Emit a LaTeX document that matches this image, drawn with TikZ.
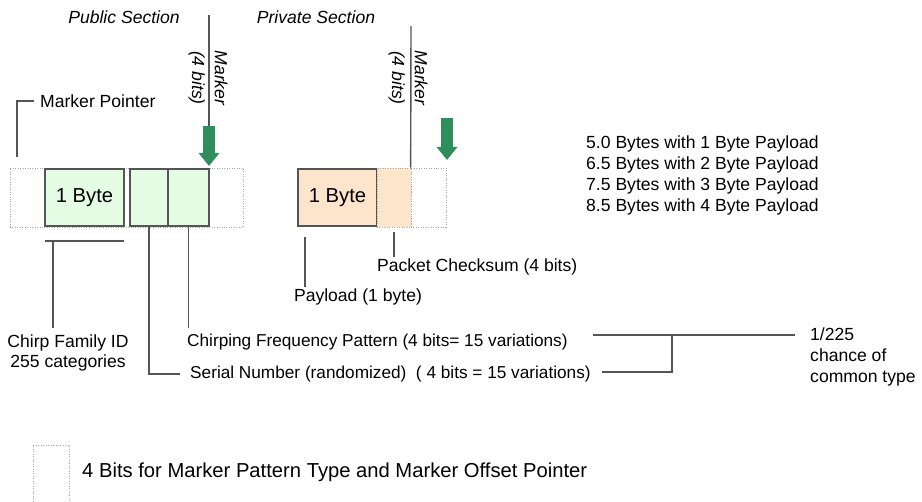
\documentclass[tikz,border=0pt]{standalone}
\usepackage{fontspec}
\setmainfont{Liberation Sans}
\usetikzlibrary{positioning, arrows.meta, calc}

\definecolor{cellgreen}{HTML}{E4FBE4}
\definecolor{cellorange}{HTML}{FDE5CC}
\definecolor{markgreen}{HTML}{2E8F5C}
\definecolor{linegray}{HTML}{555555}
\definecolor{dotgray}{HTML}{A8A8A8}

\begin{document}
\begin{tikzpicture}[x=0.02cm, y=-0.02cm, font=\fontsize{10}{12}\selectfont,
    frame/.style={draw=dotgray, densely dotted, minimum height=1.18cm, inner sep=0pt},
    cell/.style={draw=linegray, line width=0.9pt, minimum height=1.14cm, inner sep=0pt,
      font=\fontsize{11.5}{13}\selectfont},
    lead/.style={draw=linegray, line width=0.8pt},
    lbl/.style={inner sep=1pt},
    narrow/.style={font=\fontsize{9.8}{12}\selectfont},
    markarrow/.style={-{Triangle[width=0.4cm, length=0.26cm]}, line width=0.24cm, draw=markgreen},
    marktext/.style={rotate=-90, align=center, font=\fontsize{10}{13}\selectfont\itshape},
    section/.style={font=\fontsize{10}{12}\selectfont\itshape}]
  \useasboundingbox (0,0) rectangle (922,502);

  % section titles
  \node[section] (pub) at (124,17) {Public Section};
  \node[section] (priv) at (316,17) {Private Section};

  % public section
  \node[frame, minimum width=4.66cm] (pubframe) at (126.5,197.5) {};
  \node[cell, fill=cellgreen, minimum width=1.58cm] (famid) at (84.5,197.5) {1 Byte};
  \node[cell, fill=cellgreen, minimum width=0.76cm] (sncell) at (149,197.5) {};
  \node[cell, fill=cellgreen, minimum width=0.82cm] (cfcell) at (188.5,197.5) {};

  % private section
  \node[cell, fill=cellorange, minimum width=1.58cm] (payload) at (337.5,197.5) {1 Byte};
  \node[frame, fill=cellorange, minimum width=0.68cm] (chkcell) at (394,197.5) {};
  \node[frame, minimum width=0.70cm] (privptr) at (428.5,197.5) {};

  % markers
  \coordinate (pubtop) at (209,15);
  \coordinate (pubarrow) at (209,126);
  \coordinate (pubtip) at (209,166);
  \draw[lead] (pubtop) -- (pubarrow);
  \draw[markarrow] (pubarrow) -- (pubtip);
  \node[marktext] (pubmark) at (208,78) {Marker\\(4 bits)};

  \coordinate (privtop) at (411,26);
  \draw[lead] (privtop) -- (privptr.north west);
  \node[marktext] (privmark) at (408,78) {Marker\\(4 bits)};
  \coordinate (privarrow) at (447,118);
  \coordinate (privtip) at (447,160);
  \draw[markarrow] (privarrow) -- (privtip);

  % marker pointer
  \node[anchor=west] (mptr) at (34,101) {Marker Pointer};
  \coordinate (mpfoot) at (17,157);
  \draw[lead] (mpfoot) |- (mptr.west);

  % packet sizes
  \node[anchor=west, align=left, font=\fontsize{10}{12}\selectfont] (sizes) at (580,175.5)
    {5.0 Bytes with 1 Byte Payload\\6.5 Bytes with 2 Byte Payload\\7.5 Bytes with 3 Byte Payload\\8.5 Bytes with 4 Byte Payload};

  % chirp family id
  \coordinate (cfl) at (45,241);
  \coordinate (cfr) at (124,241);
  \coordinate (cfknee) at (53,241);
  \draw[lead] (cfl) -- (cfr);
  \node[align=center, font=\fontsize{10}{11.5}\selectfont] (cfid) at (68,353) {Chirp Family ID\\255 categories};
  \draw[lead] (cfknee) -- (cfknee |- cfid.north);

  % serial number and chirping pattern
  \node[narrow, anchor=west] (chirp) at (181,342) {Chirping Frequency Pattern (4 bits= 15 variations)};
  \node[narrow, anchor=west] (serial) at (184,374) {Serial Number (randomized)\ \ ( 4 bits = 15 variations)};
  \draw[lead] (sncell.south) |- ([xshift=-0.08cm]serial.west);
  \draw[lead] (cfcell.south) -- (cfcell.south |- chirp.north);

  % odds of a common type
  \node[anchor=west, align=left, font=\fontsize{10}{11.7}\selectfont] (odds) at (804,357) {1/225\\chance of\\common type};
  \coordinate (chirpend) at (593,335);
  \coordinate (serialend) at (602,372);
  \coordinate (oddsknee) at (672,335);
  \draw[lead] (chirpend) -- ([xshift=-0.18cm]odds.west |- chirpend);
  \draw[lead] (serialend) -| (oddsknee);

  % payload and checksum
  \node[lbl] (pl) at (358,297) {Payload (1 byte)};
  \coordinate (pltop) at (305,237);
  \draw[lead] (pltop) -- (pltop |- pl.north);
  \node[lbl, anchor=west] (chk) at (375,267) {Packet Checksum (4 bits)};
  \coordinate (chktop) at (394,232);
  \draw[lead] (chktop) -- (chktop |- chk.north);

  % legend
  \node[frame, minimum width=0.72cm, minimum height=1.14cm] (legbox) at (51,473.5) {};
  \node[anchor=west, font=\fontsize{11.5}{13}\selectfont] (legtext) at (76,472) {4 Bits for Marker Pattern Type and Marker Offset Pointer};
\end{tikzpicture}
\end{document}
